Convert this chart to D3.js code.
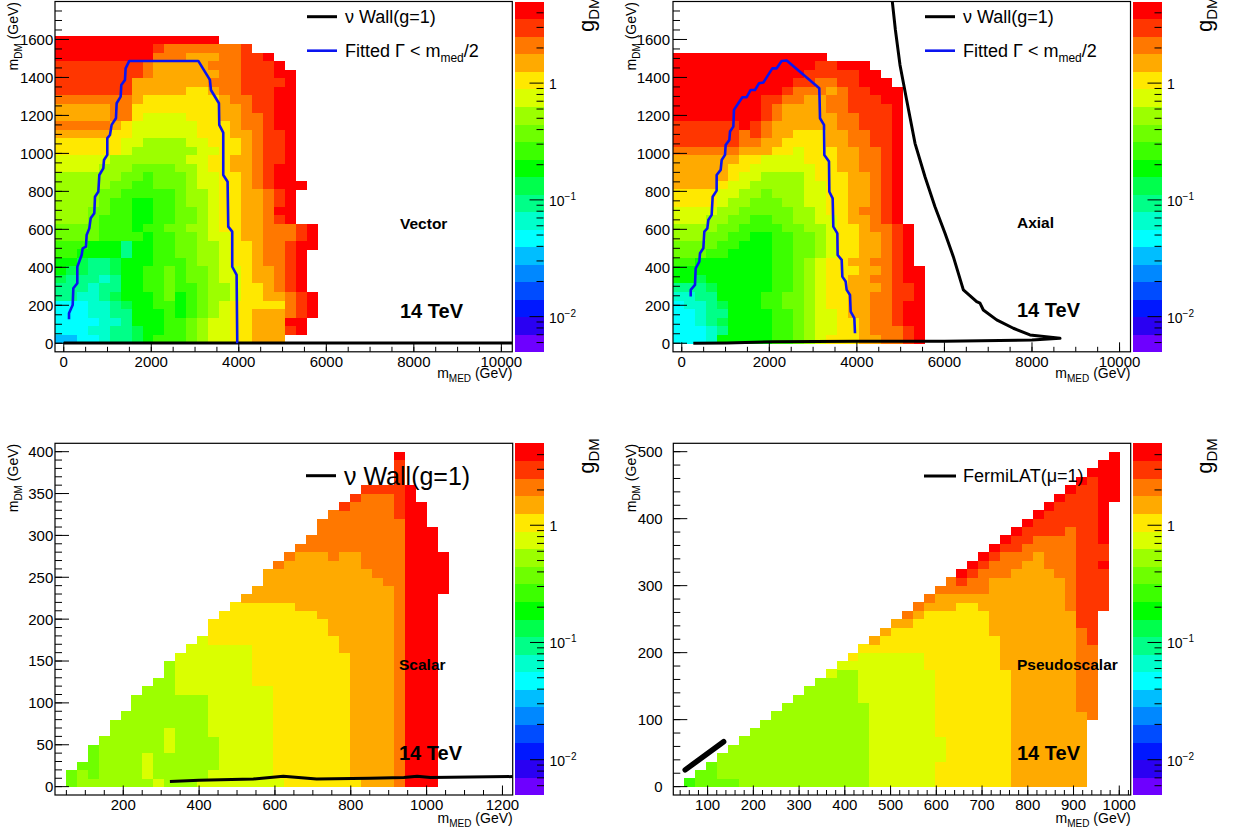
<!DOCTYPE html>
<html><head><meta charset="utf-8">
<script src="https://cdn.jsdelivr.net/npm/d3@7"></script>
<style>
body{margin:0;background:#fff}
svg text{font-family:"Liberation Sans",Arial,Helvetica,sans-serif;fill:#000}
</style>
</head><body>
<svg id="chart" width="1238" height="833"></svg>
<script>
// ---------------- DATA ----------------
// z palette (20 contour levels, log scale of g_DM from 0.005 to 5), code char -> level index
const levelCodes = "0123456789ABCDEFGHIJ";
const paletteColors = ["#6E00FF","#2A00F2","#0018FF","#004CFF","#0088FF","#00BEFF","#00FFFF","#00FFCC","#00FF88","#00FF4C","#00FF00","#3CFF00","#6EFF00","#9CFF00","#DAFF00","#FFE800","#FFAA00","#FF7800","#FF3600","#FF0000"];
const gDomain = [0.005, 5];
const paletteMajorTicks = [0.01, 0.1, 1];
const paletteMinorTicks = [0.006,0.007,0.008,0.009,0.02,0.03,0.04,0.05,0.06,0.07,0.08,0.09,0.2,0.3,0.4,0.5,0.6,0.7,0.8,0.9,2,3,4];

// Vector (14 TeV): mMED bins start -200 step 250, mDM bins start 0 step 45; rows listed top -> bottom
const vectorBinsX = {start:-200, width:250};
const vectorBinsY = {start:0, width:45};
const vectorRows = [
"JJJJJJJJJJJJJJJ",
"JJJJJJJJJIHHHHHHHI",
"JJJJJJJJJHHHGGGHHIIJ",
"IIIIIIIIHGGGGGHHHIIIJ",
"IIIIIIIIHGGGGGGHHIIIJJ",
"IIIIIIIGGGGGGGHHHIIIIJ",
"IIIIIIIGGGGGFFGHHIIIJJ",
"HHHHHHHGFFFFFFFGHHIIJJ",
"GGGGGHHFFFFFFFFGGHIIJJ",
"GGGGGHHFEEEEFFFGGHHIJJ",
"HHHHHGFEEEEEEFFFGHHIJJ",
"GGGGGFFEEEEEEFFFGGHIIJ",
"FFFFFFEEDDDDEEFFFGHIIJ",
"FFFFFFEDDDDDDEEFFGHIIJ",
"EEEEEDDDDDDDEEFFGGHIIJ",
"EEEEDDDCCCCDDEFFGGHIJJ",
"DDDDDDCCBCCCDEEFFGHIJJ",
"DDDDDCCBBCCCDEEFFGHIJJJ",
"DDDDCCBBBBBCDDEFFGGHIJ",
"DDDDCBBAABBCDDEFFGGHIJ",
"DDDCCBBAABBCCDEFFGGHJJ",
"DDDCBBBAABBCCDEFFGGHIJ",
"CCCCBBBABBCCDDEFFGGHHHIJ",
"CCCCBBBBABBCCDEEFGGHHHIJ",
"BBBAAA8AABBCCDDEFFGHHIJJ",
"BBAAAA8AABBCCDDEFFGHHIJ",
"AA9889AAABBBCDDEFFGHHIJ",
"A99889AABBCBCCDEEFGGHIJ",
"988878AABBCBCCDEEFGGHIJ",
"888788AABBCBBCDDEFFGHIJ",
"887789AAABCABCDDEFFGGHIJ",
"6667789AABBABCDEFFFFFHIJ",
"6667788AAABABCDEFFGGGHIJ",
"6666778AAABBCDEEFFGGGJJ",
"66677889AABBCDEEFFGGGIJ",
"55667889ABBBCDEEFFGGG"
];
const vectorFit = [[120,126],[120,158],[204,202],[219,290],[310,316],[310,403],[409,465],[432,500],[508,509],[523,570],[584,605],[615,658],[698,685],[714,772],[790,798],[813,886],[904,921],[919,965],[995,992],[995,1080],[1056,1097],[1094,1150],[1193,1185],[1209,1264],[1300,1299],[1315,1360],[1399,1387],[1414,1448],[1498,1487],[3074,1487],[3340,1387],[3363,1334],[3546,1264],[3554,1150],[3645,1109],[3645,886],[3744,851],[3759,614],[3850,588],[3850,403],[3950,360],[3965,0]];
const vectorWall = [[0,2],[10300,2]];

// Axial (14 TeV): same binning as Vector
const axialRows = [
"",
"",
"JJJJJJJJJJJJJJ",
"JJJJJJJJJJJJJIIJJJ",
"JJJJJJJJJJJJIIIIIJJ",
"JJJJJJJJJJJIIHHIIJJJ",
"JJJJJJJJJJIHHHGHIIJJJ",
"JJJJJJJJIIHHGGHHIIIJJ",
"JJJJJJJJIHGGGGHHIIIIJ",
"JJJJJJJJIHGGGGGHHIIIJ",
"IIIIIIJIHGGGGGGHHIIIJ",
"IIIIIIHIHGGFFFGGHHIIJ",
"IIIIIIHHGGFFFFGGHHIIJ",
"HHHHHHGGGFFEFFFGGHHIJ",
"GGGGGGFFEEEEFFFGGHHIJ",
"GGGGGFFEEEEEEFFGGHHIJ",
"GGGGGFEEDDDDEFFFGGHIJ",
"GGGGFEEDDDDDEEFFGGHIJ",
"FFFFEEDDCDDDEEFFGGHIJ",
"FFFFEDDCCCDDEEFFGGHIJ",
"EEEEDDCCCCCDDEFFGHHIJ",
"EEEDDCCBBCCDDEEFGGHIJ",
"DDDDCCBBBBCCDDEFFGHHIJ",
"DDDCCBBAABBCCDEFFGGHIJ",
"CCCCBBAAABBCCDEFFGGHIJ",
"CCCBBAAAABBCCDEFFGGHIJ",
"BBAAAAAAABBCDEFFGGHHIJ",
"AAAAAAAAABBCDEFFFGGHIJJ",
"AA9AAAAAABBCDEFFGGHHIJJ",
"8889AAAAABBCDEFFGGGHIIJ",
"7788AAAABBCCDEFFGGHHIIJ",
"67789AAABBCCDEFFGGHHIJJ",
"66788AAAABBCDEEFGGHHIJJ",
"66789AAAABBCDEEFFGHHIJJ",
"66678AAAABBCDEEFFGHHHIJ",
"6667AAAAABBCDEFFFGGHHIJ"
];
const axialFit = [[204,246],[204,281],[302,307],[318,395],[401,430],[417,474],[493,500],[516,588],[584,605],[607,649],[683,676],[706,772],[797,804],[797,886],[889,913],[912,965],[988,992],[1003,1044],[1087,1071],[1102,1115],[1178,1141],[1193,1229],[1292,1264],[1384,1296],[1483,1296],[1574,1334],[1673,1334],[1764,1369],[1863,1373],[2069,1448],[2168,1448],[2282,1487],[2397,1489],[3142,1343],[3158,1185],[3249,1150],[3257,992],[3363,957],[3371,798],[3447,763],[3462,614],[3554,579],[3561,465],[3653,439],[3668,351],[3744,325],[3767,281],[3843,254],[3858,167],[3942,132],[3957,53]];
const axialWall = [[264,0],[1027,2],[2091,8],[4000,10],[6000,11],[8000,17],[8640,26],[7954,44],[7574,79],[7193,123],[6888,175],[6812,211],[6736,219],[6432,281],[6203,456],[6013,579],[5784,719],[5556,877],[5328,1053],[5137,1281],[4985,1466],[4880,1650],[4795,1830]];

// Scalar (14 TeV): mMED bins start 48.8 step 28.81, mDM bins start 0 step 10; columns bottom -> top, run-length coded
const scalarBinsX = {start:48.81, width:28.81};
const scalarBinsY = {start:0, width:10};
const scalarCols = ["C2","D2C1","D1C4","D6","D8","D9","D11","D1E3D8","E1D12","D4E3D8","D11E5","D11E6","E1D10E7","E2D4E11F3","E17F4","E17F5","E17F5G1","E12F10G2","E12F10G4","E1F21G4H1","F22G5H1","F21G7H1","F21G7H2","F20G8H4","F18G9H6","F16G12H5I1","F1G27H6I1","G26H9I1","G25H10I1","G24H11I1","H32I7J1","J36","J34","J31",".23J5"];
const scalarWall = [[323,6],[400,7.5],[543,9],[622,12.5],[710,9],[850,10],[940,11],[975,12.5],[1010,11],[1230,12]];

// Pseudoscalar (14 TeV): mMED bins start 48.81 step 23.81, mDM bins start 0 step 12.5
const pseudoBinsX = {start:48.81, width:23.81};
const pseudoBinsY = {start:0, width:12.5};
const pseudoCols = ["B1","C2","C3","C1D3","C1D4","D6","D7","D8","D9","D10","D11","D12","D13","D13E1","D14E1","D14E1F1","D10E6F1","E16F1G1","E16F2G1","E16F3G1","E16F3G1H1","E16F4G1H1","E14F7G1H1","F3E3F15G2H1","F21G2H2","F22G1H1I1J1","F22G1H2I1J1","F21G2H3I1J1","F18G7H2I1J1","F14G11H3I1J1","G26H2I2J1","G27H2I2J1","G28H2I2J1","G26H4I3J1","G25H5I4J1","G21H10I4J1","G9H10I17J1",".8H9I20J1",".21I5J1I2J10",".34J6"];
const fermiLAT = [[51,25],[135,67]];

// ---------------- LAYOUT ----------------
const svg = d3.select("#chart");
const panels = [
 {name:"Vector", frame:[55,512.3,1.5,351.8], xDom:[-200,10250], yDom:[-45,1800], pal:[515,543.5],
  xMaj:d3.range(0,10001,2000), xMin:d3.range(0,10251,500), yMaj:d3.range(0,1601,200), yMin:d3.range(0,1800,50),
  yLabOff:1.7, xTitleOff:25.8, cells:{rows:vectorRows,bx:vectorBinsX,by:vectorBinsY}, fit:vectorFit, wall:vectorWall,
  legend:[{type:"wall"},{type:"fit"}], legX:307, legY:16.7, legFont:18, labelX:400, labelY:229, tevY:318},
 {name:"Axial", frame:[673,1130.5,1.5,351.8], xDom:[-200,10250], yDom:[-45,1800], pal:[1133,1161.5],
  xMaj:d3.range(0,10001,2000), xMin:d3.range(0,10251,500), yMaj:d3.range(0,1601,200), yMin:d3.range(0,1800,50),
  yLabOff:3, xTitleOff:25.8, cells:{rows:axialRows,bx:vectorBinsX,by:vectorBinsY}, fit:axialFit, wall:axialWall,
  legend:[{type:"wall"},{type:"fit"}], legX:925, legY:16.7, legFont:18, labelX:1017, labelY:228, tevY:317},
 {name:"Scalar", frame:[55,512.7,443.3,795], xDom:[20,1227], yDom:[-10,410], pal:[514.5,544],
  xMaj:d3.range(200,1201,200), xMin:d3.range(50,1227,50), yMaj:d3.range(0,401,50), yMin:d3.range(0,410,10),
  yLabOff:1.7, xTitleOff:28, cells:{cols:scalarCols,bx:scalarBinsX,by:scalarBinsY}, wall:scalarWall,
  legend:[{type:"wall"}], legX:306, legY:475.7, legFont:25, labelX:399, labelY:670, tevY:760},
 {name:"Pseudoscalar", frame:[673.3,1130.7,443.3,795], xDom:[25,1025], yDom:[-12.5,512.5], pal:[1133,1161.5],
  xMaj:d3.range(100,1001,100), xMin:d3.range(40,1025,20), yMaj:d3.range(0,501,100), yMin:d3.range(0,512,20),
  yLabOff:10.6, xTitleOff:28, cells:{cols:pseudoCols,bx:pseudoBinsX,by:pseudoBinsY}, fermi:fermiLAT,
  legend:[{type:"fermi"}], legX:924, legY:476, legFont:18, labelX:1017, labelY:670, tevY:760}
];

const colorOf = d3.scaleOrdinal().domain(levelCodes.split("")).range(paletteColors);

function cellsFromRows(rows, bx, by){
  const out=[], n=rows.length;
  rows.forEach((row,ri)=>{
    const j=n-1-ri;
    [...row].forEach((ch,i)=>{ if(ch!==".") out.push({x0:bx.start+i*bx.width,x1:bx.start+(i+1)*bx.width,y0:by.start+j*by.width,y1:by.start+(j+1)*by.width,code:ch}); });
  });
  return out;
}
function cellsFromCols(cols, bx, by){
  const out=[];
  cols.forEach((col,i)=>{
    let j=0;
    for(const m of col.matchAll(/([.A-J])(\d+)/g)){
      const n=+m[2];
      for(let k=0;k<n;k++,j++){ if(m[1]!==".") out.push({x0:bx.start+i*bx.width,x1:bx.start+(i+1)*bx.width,y0:by.start+j*by.width,y1:by.start+(j+1)*by.width,code:m[1]}); }
    }
  });
  return out;
}

panels.forEach((P,pi)=>{
  const [fx0,fx1,fy0,fy1]=P.frame;
  const x=d3.scaleLinear().domain(P.xDom).range([fx0,fx1]);
  const y=d3.scaleLinear().domain(P.yDom).range([fy1,fy0]);
  const g=svg.append("g");
  const clipId="clip"+pi;
  svg.append("clipPath").attr("id",clipId).append("rect").attr("x",fx0).attr("y",fy0).attr("width",fx1-fx0).attr("height",fy1-fy0);

  // cells
  const cells = P.cells.rows ? cellsFromRows(P.cells.rows,P.cells.bx,P.cells.by) : cellsFromCols(P.cells.cols,P.cells.bx,P.cells.by);
  g.append("g").attr("clip-path",`url(#${clipId})`).attr("shape-rendering","crispEdges")
   .selectAll("rect").data(cells).join("rect")
   .attr("x",d=>x(d.x0)).attr("y",d=>y(d.y1))
   .attr("width",d=>x(d.x1)-x(d.x0)+0.3).attr("height",d=>y(d.y0)-y(d.y1)+0.3)
   .attr("fill",d=>colorOf(d.code));

  // curves
  const line=d3.line().x(d=>x(d[0])).y(d=>y(d[1]));
  const cg=g.append("g").attr("clip-path",`url(#${clipId})`);
  if(P.wall) cg.append("path").attr("d",line(P.wall)).attr("fill","none").attr("stroke","#000").attr("stroke-width",3).attr("stroke-linejoin","round");
  if(P.fit) cg.append("path").attr("d",line(P.fit)).attr("fill","none").attr("stroke","#0a14f0").attr("stroke-width",2.6).attr("stroke-linejoin","round");
  if(P.fermi) cg.append("path").attr("d",line(P.fermi)).attr("fill","none").attr("stroke","#000").attr("stroke-width",5.5).attr("stroke-linecap","round");

  // frame
  g.append("rect").attr("x",fx0).attr("y",fy0).attr("width",fx1-fx0).attr("height",fy1-fy0).attr("fill","none").attr("stroke","#000").attr("stroke-width",1.2);

  // ticks
  const tk=g.append("g").attr("stroke","#000").attr("stroke-width",1);
  P.xMin.forEach(v=>{ if(x(v)>fx0+0.5&&x(v)<fx1-0.5) tk.append("line").attr("x1",x(v)).attr("x2",x(v)).attr("y1",fy1).attr("y2",fy1-5); });
  P.xMaj.forEach(v=>{ tk.append("line").attr("x1",x(v)).attr("x2",x(v)).attr("y1",fy1).attr("y2",fy1-9.5); });
  P.yMin.forEach(v=>{ if(y(v)>fy0+0.5) tk.append("line").attr("x1",fx0).attr("x2",fx0+7).attr("y1",y(v)).attr("y2",y(v)); });
  P.yMaj.forEach(v=>{ tk.append("line").attr("x1",fx0).attr("x2",fx0+14).attr("y1",y(v)).attr("y2",y(v)); });
  P.xMaj.forEach(v=>{ g.append("text").attr("x",x(v)).attr("y",fy1+14.8).attr("text-anchor","middle").attr("font-size",15).text(v); });
  P.yMaj.forEach(v=>{ g.append("text").attr("x",fx0-P.yLabOff).attr("y",y(v)+5.4).attr("text-anchor","end").attr("font-size",15).text(v); });

  // axis titles
  const xt=g.append("text").attr("x",fx1).attr("y",fy1+P.xTitleOff).attr("text-anchor","end").attr("font-size",14);
  xt.append("tspan").text("m"); xt.append("tspan").attr("font-size",10).attr("dy",4).text("MED"); xt.append("tspan").attr("dy",-4).text(" (GeV)");
  const yt=g.append("text").attr("transform",`translate(${fx0-37},${fy0+0.5}) rotate(-90)`).attr("text-anchor","end").attr("font-size",14);
  yt.append("tspan").text("m"); yt.append("tspan").attr("font-size",10).attr("dy",4).text("DM"); yt.append("tspan").attr("dy",-4).text(" (GeV)");

  // palette
  const [px0,px1]=P.pal;
  const z=d3.scaleLog().domain(gDomain).range([fy1,fy0]);
  const step=(Math.log10(gDomain[1])-Math.log10(gDomain[0]))/paletteColors.length;
  const bands=paletteColors.map((c,k)=>({lo:gDomain[0]*Math.pow(10,k*step),hi:gDomain[0]*Math.pow(10,(k+1)*step),c}));
  g.append("g").attr("shape-rendering","crispEdges").selectAll("rect").data(bands).join("rect")
   .attr("x",px0).attr("width",px1-px0).attr("y",d=>z(d.hi)).attr("height",d=>z(d.lo)-z(d.hi)+0.4).attr("fill",d=>d.c);
  const pt=g.append("g").attr("stroke","#000").attr("stroke-width",1);
  paletteMinorTicks.forEach(v=>pt.append("line").attr("x1",px1).attr("x2",px1-7).attr("y1",z(v)).attr("y2",z(v)));
  paletteMajorTicks.forEach(v=>pt.append("line").attr("x1",px1).attr("x2",px1-14).attr("y1",z(v)).attr("y2",z(v)));
  paletteMajorTicks.forEach(v=>{
    const t=g.append("text").attr("x",px1+5.5).attr("y",z(v)+6).attr("font-size",14);
    if(v===1) t.text("1");
    else { t.append("tspan").text("10"); t.append("tspan").attr("font-size",10).attr("dy",-6).text("\u2212"+Math.round(-Math.log10(v))); }
  });
  const zt=g.append("text").attr("transform",`translate(${px1+50},${fy0+30.5}) rotate(-90)`).attr("font-size",22);
  zt.append("tspan").text("g"); zt.append("tspan").attr("font-size",15).attr("dy",5).text("DM");

  // legend
  const lx=P.legX, ly=P.legY, fs=P.legFont;
  P.legend.forEach((e,k)=>{
    const yy=ly+k*34;
    if(e.type==="wall"){
      g.append("line").attr("x1",lx).attr("x2",lx+30).attr("y1",yy).attr("y2",yy).attr("stroke","#000").attr("stroke-width",3);
      g.append("text").attr("x",lx+38).attr("y",yy+fs*0.36).attr("font-size",fs).text("\u03BD Wall(g=1)");
    } else if(e.type==="fit"){
      g.append("line").attr("x1",lx).attr("x2",lx+30).attr("y1",yy).attr("y2",yy).attr("stroke","#0a14f0").attr("stroke-width",2.6);
      const t=g.append("text").attr("x",lx+38).attr("y",yy+fs*0.36).attr("font-size",fs);
      t.append("tspan").text("Fitted \u0393 < m"); t.append("tspan").attr("font-size",12).attr("dy",5).text("med"); t.append("tspan").attr("dy",-5).text("/2");
    } else {
      g.append("line").attr("x1",lx).attr("x2",lx+32).attr("y1",yy).attr("y2",yy).attr("stroke","#000").attr("stroke-width",3);
      g.append("text").attr("x",lx+39).attr("y",yy+fs*0.36).attr("font-size",fs).text("FermiLAT(\u03BC=1)");
    }
  });

  // labels
  g.append("text").attr("x",P.labelX).attr("y",P.labelY).attr("font-size",15.5).attr("font-weight","bold").text(P.name);
  g.append("text").attr("x",P.labelX).attr("y",P.tevY).attr("font-size",20).attr("font-weight","bold").text("14 TeV");
});
</script>
</body></html>
